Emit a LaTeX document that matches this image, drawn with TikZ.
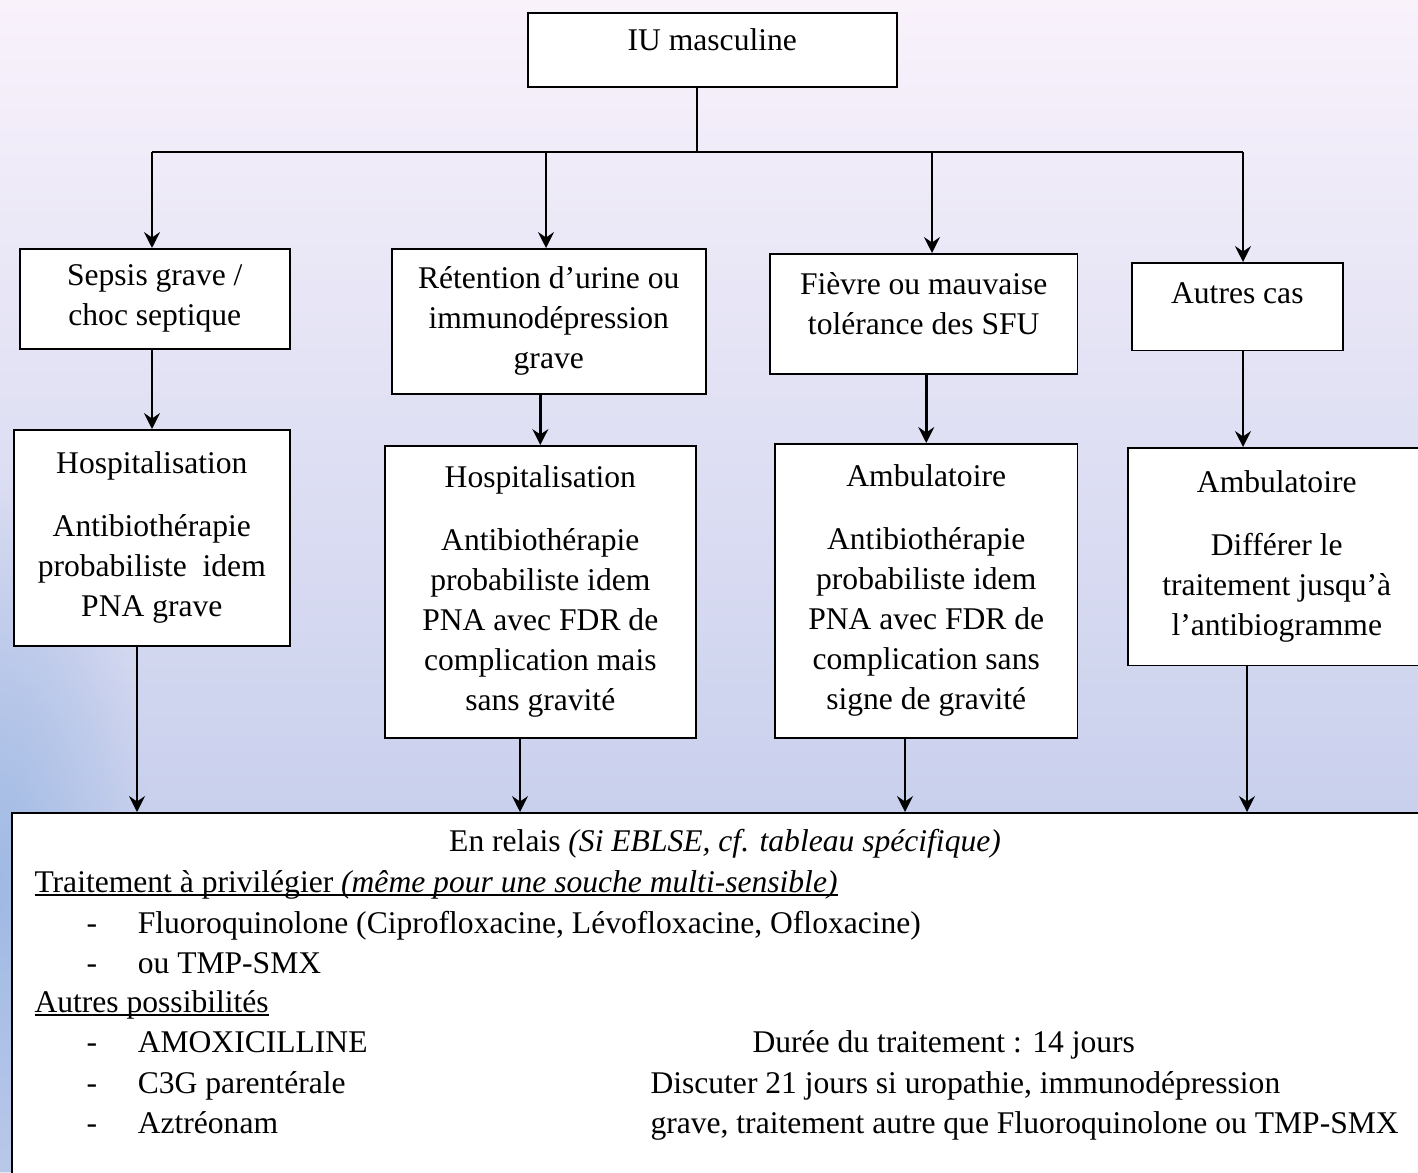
\documentclass[tikz,border=0pt]{standalone}
\usepackage{fontspec}
\setmainfont{Liberation Serif}
\usetikzlibrary{positioning,fadings,arrows.meta}
\definecolor{achtertop}{RGB}{249,242,251}
\definecolor{achtermid}{RGB}{236,231,246}
\definecolor{achterbodem}{RGB}{198,206,236}
\definecolor{randblauw}{RGB}{160,186,228}
\tikzfading[name=blauwrand, inner color=transparent!0, outer color=transparent!100]
\newlength{\ondlen}
\newcommand{\onderstreep}[1]{\settowidth{\ondlen}{#1}\rlap{\rule[-1.4pt]{\ondlen}{0.55pt}}#1}
\newcommand{\onder}[1]{\rule[-#1]{0pt}{#1}}

\begin{document}
\begin{tikzpicture}[x=0.38pt,y=-0.38pt,
	font=\fontsize{12}{15.2}\selectfont,
	doos/.style={draw=black,fill=white,line width=0.6pt,anchor=north west,align=center,inner sep=2pt},
	pijl/.style={line width=1pt,-{Stealth[length=6pt,width=6pt,inset=2pt]}},
	lijn/.style={line width=0.5pt},
	regel/.style={anchor=base west,inner sep=0pt}
]
	% achtergrond
	\useasboundingbox (0,0) rectangle (1418,1172);
	\clip (0,0) rectangle (1418,1172);
	\shade[top color=achtertop, middle color=achtermid, bottom color=achterbodem] (0,0) rectangle (1418,860);
	\fill[achterbodem] (0,860) rectangle (1418,1172);
	\fill[randblauw,path fading=blauwrand] (-150,480) rectangle (150,1300);

	\node[doos,minimum width=140.2pt,minimum height=28.1pt] (iu) at (527,12) {IU masculine\onder{7.6pt}};

	\node[doos,minimum width=102.6pt,minimum height=38pt] (sepsis) at (19,248) {Sepsis grave /\\choc septique};
	\node[doos,minimum width=119.3pt,minimum height=55.1pt] (retentie) at (391,248) {Rétention d’urine ou\\immunodépression\\grave};
	\node[doos,minimum width=117pt,minimum height=45.6pt] (koorts) at (769,253) {Fièvre ou mauvaise\\tolérance des SFU\onder{7.6pt}};
	\node[doos,minimum width=80.2pt,minimum height=33.4pt] (autres) at (1131,262) {Autres cas\onder{10.6pt}};

	\node[doos,minimum width=104.9pt,minimum height=82.1pt] (hosp1) at (13,429) {Hospitalisation\\[8.7pt]Antibiothérapie\\probabiliste~ idem\\PNA grave};
	\node[doos,minimum width=118.2pt,minimum height=111pt] (hosp2) at (384,445) {Hospitalisation\\[8.7pt]Antibiothérapie\\probabiliste idem\\PNA avec FDR de\\complication mais\\sans gravité};
	\node[doos,minimum width=115.1pt,minimum height=111.7pt] (ambu1) at (774,443) {Ambulatoire\\[8.7pt]Antibiothérapie\\probabiliste idem\\PNA avec FDR de\\complication sans\\signe de gravité};
	\node[doos,minimum width=113.2pt,minimum height=82.8pt] (ambu2) at (1127,447) {Ambulatoire\\[8.7pt]Différer le\\traitement jusqu’à\\l’antibiogramme\onder{3pt}};

	\node[doos,minimum width=537.3pt,minimum height=139.8pt] (relais) at (11,812) {};

	% verbindingen
	\coordinate (bus) at (697,152);
	\coordinate (q1) at (152,0);
	\coordinate (q2) at (546,0);
	\coordinate (q3) at (932,0);
	\coordinate (q4) at (1243,0);
	\draw[lijn] (iu.south -| bus) -- (bus);
	\draw[lijn] (bus -| q1) -- (bus -| q4);
	\draw[pijl] (bus -| q1) -- (sepsis.north -| q1);
	\draw[pijl] (bus -| q2) -- (retentie.north -| q2);
	\draw[pijl] (bus -| q3) -- (koorts.north -| q3);
	\draw[pijl] (bus -| q4) -- (autres.north -| q4);

	\draw[pijl] (sepsis.south -| q1) -- (hosp1.north -| q1);
	\draw[pijl] (retentie.south -| hosp2.north) -- (hosp2.north);
	\draw[pijl] (koorts.south -| ambu1.north) -- (ambu1.north);
	\draw[pijl] (autres.south -| q4) -- (ambu2.north -| q4);

	\coordinate (p1) at (137,0);
	\coordinate (p2) at (520,0);
	\coordinate (p3) at (905,0);
	\coordinate (p4) at (1247,0);
	\draw[pijl] (hosp1.south -| p1) -- (relais.north -| p1);
	\draw[pijl] (hosp2.south -| p2) -- (relais.north -| p2);
	\draw[pijl] (ambu1.south -| p3) -- (relais.north -| p3);
	\draw[pijl] (ambu2.south -| p4) -- (relais.north -| p4);

	% tekst in het onderste vak
	\node[regel,anchor=base] (titel) at (725,851) {En relais \textit{(Si EBLSE, cf. tableau spécifique)}};
	\node[regel] (voorkeur) at (34,892) {\onderstreep{Traitement à privilégier \textit{(même pour une souche multi-sensible)}}};
	\node[regel] (fq) at (86,933) {\makebox[19.5pt][l]{-}Fluoroquinolone (Ciprofloxacine, Lévofloxacine, Ofloxacine)};
	\node[regel] (tmp) at (86,973) {\makebox[19.5pt][l]{-}ou TMP-SMX};
	\node[regel] (andere) at (34,1012) {\onderstreep{Autres possibilités}};
	\node[regel] (amox) at (86,1052) {\makebox[19.5pt][l]{-}AMOXICILLINE};
	\node[regel] (c3g) at (86,1093) {\makebox[19.5pt][l]{-}C3G parentérale};
	\node[regel] (aztr) at (86,1133) {\makebox[19.5pt][l]{-}Aztréonam};
	\node[regel] (duur) at (752,1052) {Durée du traitement : 14 jours};
	\node[regel] (discuter) at (650,1093) {Discuter 21 jours si uropathie, immunodépression};
	\node[regel] (grave) at (650,1133) {grave, traitement autre que Fluoroquinolone ou TMP-SMX};
\end{tikzpicture}
\end{document}
